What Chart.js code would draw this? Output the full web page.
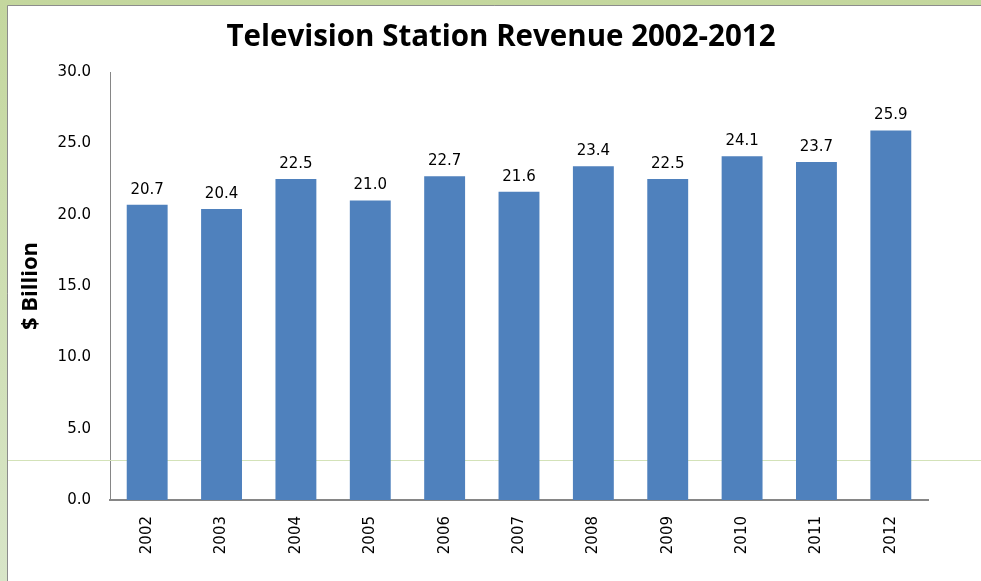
<!DOCTYPE html>
<html>
<head>
<meta charset="utf-8">
<title>Television Station Revenue</title>
<script src="https://cdn.jsdelivr.net/npm/chart.js@4"></script>
<style>
  html, body { margin: 0; padding: 0; background: #fff; }
  canvas { display: block; }
</style>
</head>
<body>
<canvas id="revenue-chart" width="981" height="581"></canvas>
<script>
"use strict";

const years = ["2002", "2003", "2004", "2005", "2006", "2007", "2008", "2009", "2010", "2011", "2012"];
const revenue = [20.7, 20.4, 22.5, 21.0, 22.7, 21.6, 23.4, 22.5, 24.1, 23.7, 25.9];
const yMin = 0;
const yMax = 30;
const yStep = 5;
const chartTitle = "Television Station Revenue 2002-2012";

const labelFont = "'DejaVu Sans', Verdana, sans-serif";
const headFont = "'Open Sans', 'Liberation Sans', sans-serif";

// green slide frame behind the white chart panel, plus the heading
const framePlugin = {
  id: "frame",
  beforeDraw(chart) {
    const { ctx, width, height } = chart;
    ctx.save();
    const grad = ctx.createLinearGradient(0, 0, 0, height);
    grad.addColorStop(0, "#c4d79e");
    grad.addColorStop(1, "#d8e5c8");
    ctx.fillStyle = grad;
    ctx.fillRect(0, 0, width, height);
    ctx.fillStyle = "#ffffff";
    ctx.fillRect(8, 6, width - 8, height - 6);
    ctx.strokeStyle = "#8c8c8c";
    ctx.lineWidth = 1;
    ctx.beginPath();
    ctx.moveTo(7.5, height);
    ctx.lineTo(7.5, 5.5);
    ctx.lineTo(width, 5.5);
    ctx.stroke();

    ctx.font = "bold 29.5px " + headFont;
    ctx.fillStyle = "#000";
    ctx.textAlign = "center";
    ctx.textBaseline = "middle";
    ctx.fillText(chartTitle, 501, 38);
    ctx.restore();
  },
  beforeDatasetsDraw(chart) {
    // faint guide line running across the panel
    const { ctx, width } = chart;
    ctx.save();
    ctx.strokeStyle = "#d3e2b8";
    ctx.lineWidth = 1;
    ctx.beginPath();
    ctx.moveTo(8, 460.5);
    ctx.lineTo(width, 460.5);
    ctx.stroke();
    ctx.restore();
  },
};

// value written above each bar
const valueLabels = {
  id: "valueLabels",
  afterDatasetsDraw(chart) {
    const { ctx } = chart;
    const meta = chart.getDatasetMeta(0);
    ctx.save();
    ctx.font = "15px " + labelFont;
    ctx.fillStyle = "#000";
    ctx.textAlign = "center";
    ctx.textBaseline = "middle";
    meta.data.forEach((bar, i) => {
      ctx.fillText(revenue[i].toFixed(1), bar.x, bar.y - 15);
    });
    ctx.restore();
  },
};

new Chart(document.getElementById("revenue-chart"), {
  type: "bar",
  data: {
    labels: years,
    datasets: [
      {
        label: "Revenue",
        data: revenue,
        backgroundColor: "#4f81bd",
        borderWidth: 0,
        barPercentage: 0.55,
        categoryPercentage: 1,
      },
    ],
  },
  options: {
    responsive: false,
    animation: false,
    layout: {
      padding: { left: 8, right: 53, top: 72, bottom: 0 },
    },
    plugins: {
      legend: { display: false },
      tooltip: { enabled: false },
      title: { display: false },
    },
    scales: {
      x: {
        grid: { display: false, drawTicks: false },
        border: { color: "#868686", width: 2 },
        ticks: {
          color: "#000",
          font: { family: labelFont, size: 15 },
          minRotation: 90,
          maxRotation: 90,
          autoSkip: false,
          padding: 16,
        },
        afterFit(scale) {
          scale.height = 81;
        },
      },
      y: {
        min: yMin,
        max: yMax,
        grid: { display: false, drawTicks: false },
        border: { color: "#868686", width: 1 },
        ticks: {
          stepSize: yStep,
          color: "#000",
          font: { family: labelFont, size: 15 },
          padding: 19,
          callback: (v) => Number(v).toFixed(1),
        },
        title: {
          display: true,
          text: "$ Billion",
          color: "#000",
          font: { family: headFont, size: 22, weight: "bold" },
          padding: { top: 10, bottom: 0 },
        },
        afterFit(scale) {
          scale.width = 102;
        },
      },
    },
  },
  plugins: [framePlugin, valueLabels],
});
</script>
</body>
</html>
